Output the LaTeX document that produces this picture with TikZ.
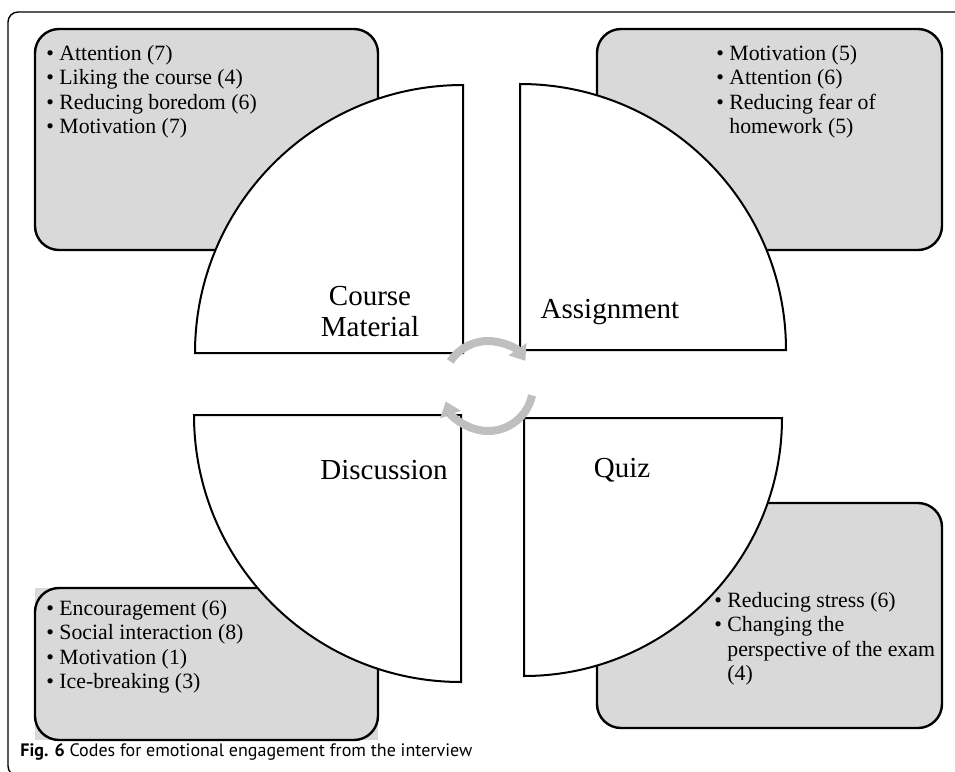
\documentclass[tikz,border=0pt]{standalone}
\usepackage{fontspec}
\setmainfont{Liberation Serif}
\newfontfamily\capfont{PT Sans}
\usetikzlibrary{arrows.meta}
\definecolor{boxgray}{RGB}{217,217,217}
\definecolor{ringgray}{RGB}{191,191,191}
\newcommand{\itm}[1]{\makebox[6.5pt][l]{•}#1}
\newcommand{\ind}{\hspace*{6.5pt}}

\begin{document}
\begin{tikzpicture}[x=0.5pt,y=-0.5pt,
    codebox/.style={draw=black,line width=1.2pt,fill=boxgray,rounded corners=12pt},
    quarter/.style={draw=black,line width=1pt,fill=white},
    codes/.style={anchor=north west,align=left,inner sep=0pt,
      font=\fontsize{10.9}{12.2}\selectfont},
    qlabel/.style={align=center,inner sep=0pt,font=\fontsize{14.5}{15.5}\selectfont},
    turn/.style={ringgray,line width=4pt,-{Triangle[width=10.5pt,length=7pt]}}]
  \useasboundingbox (0,0) rectangle (955,772);
  \draw[line width=0.7pt,rounded corners=5pt] (960,12) -- (8,12) -- (8,776) -- (40,776);

  \draw[codebox] (35,29) rectangle (378,250);
  \draw[codebox] (597,29) rectangle (942,250);
  \fill[boxgray] (35,588) rectangle (378,740);
  \draw[codebox] (35,588) rectangle (378,740);
  \draw[codebox] (597,503) rectangle (942,728);

  \coordinate (A) at (463,353);
  \coordinate (B) at (520,350);
  \coordinate (C) at (461,415);
  \coordinate (D) at (524,418);
  \draw[quarter] (A) -- ++(-268,0) arc[start angle=180,end angle=270,radius=268] -- cycle;
  \draw[quarter] (B) -- ++(0,-266) arc[start angle=270,end angle=360,radius=266] -- cycle;
  \draw[quarter] (C) -- ++(-267,0) arc[start angle=180,end angle=90,radius=267] -- cycle;
  \draw[quarter] (D) -- ++(0,258) arc[start angle=90,end angle=0,radius=258] -- cycle;

  \coordinate (O) at (488,386);
  \draw[turn] (O) ++(213:45) arc[start angle=213,end angle=326,radius=45];
  \draw[turn] (O) ++(12:45) arc[start angle=12,end angle=160,radius=45];

  \node[qlabel] (cm) at (370,312) {Course\\Material};
  \node[qlabel] (as) at (610,312) {Assignment};
  \node[qlabel] (di) at (384,470) {Discussion};
  \node[qlabel] (qu) at (622,470) {Quiz};

  \node[codes] (cml) at (46,45) {\itm{Attention (7)}\\ \itm{Liking the course (4)}\\
    \itm{Reducing boredom (6)}\\ \itm{Motivation (7)}};
  \node[codes] (asl) at (716,45) {\itm{Motivation (5)}\\ \itm{Attention (6)}\\
    \itm{Reducing fear of}\\ \ind homework (5)};
  \node[codes] (dil) at (46,600) {\itm{Encouragement (6)}\\ \itm{Social interaction (8)}\\
    \itm{Motivation (1)}\\ \itm{Ice-breaking (3)}};
  \node[codes] (qul) at (714,592) {\itm{Reducing stress (6)}\\ \itm{Changing the}\\
    \ind perspective of the exam\\ \ind (4)};

  \node[anchor=base west,inner sep=0pt,font=\capfont\fontsize{9}{10}\selectfont]
    (cap) at (20,756) {\textbf{Fig. 6} Codes for emotional engagement from the interview};
\end{tikzpicture}
\end{document}
